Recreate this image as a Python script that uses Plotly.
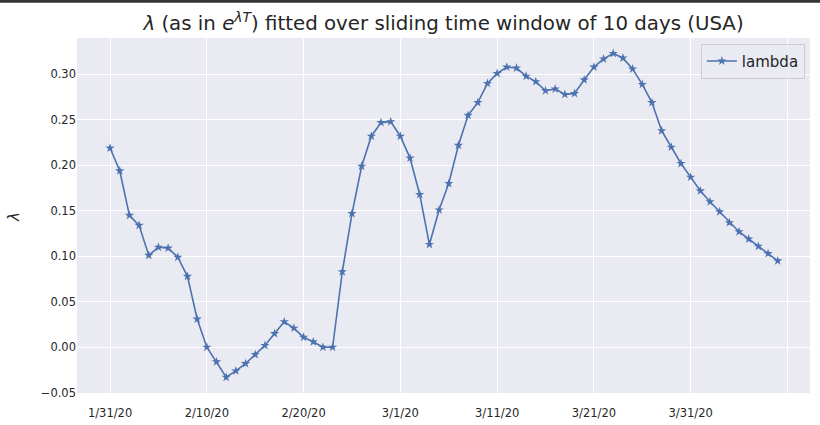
import pandas as pd
import plotly.graph_objects as go

start_date = "2020-01-31"
lam = [0.219, 0.194, 0.145, 0.134, 0.101, 0.110, 0.109, 0.099, 0.078, 0.031,
       0.000, -0.016, -0.033, -0.026, -0.018, -0.008, 0.002, 0.015, 0.028, 0.021,
       0.011, 0.006, 0.000, 0.000, 0.083, 0.147, 0.199, 0.232, 0.247, 0.248,
       0.232, 0.208, 0.168, 0.113, 0.151, 0.180, 0.222, 0.255, 0.269, 0.290,
       0.301, 0.308, 0.307, 0.298, 0.292, 0.282, 0.284, 0.278, 0.279, 0.294,
       0.308, 0.317, 0.323, 0.318, 0.306, 0.289, 0.269, 0.238, 0.220, 0.202,
       0.187, 0.172, 0.160, 0.149, 0.137, 0.127, 0.119, 0.111, 0.103, 0.095]
dates = pd.date_range(start_date, periods=len(lam))

x_tick_vals = ["2020-01-31", "2020-02-10", "2020-02-20", "2020-03-01",
               "2020-03-11", "2020-03-21", "2020-03-31"]
x_tick_text = ["1/31/20", "2/10/20", "2/20/20", "3/1/20", "3/11/20",
               "3/21/20", "3/31/20"]
x_extra_grid = ["2020-04-10"]
y_tick_vals = [-0.05, 0.0, 0.05, 0.10, 0.15, 0.20, 0.25, 0.30]
y_tick_text = ["\u22120.05", "0.00", "0.05", "0.10", "0.15", "0.20", "0.25", "0.30"]

fig = go.Figure()
fig.add_trace(go.Scatter(
    x=dates, y=lam, mode="lines+markers", name="lambda",
    line=dict(color="#4C72B0", width=1.6),
    marker=dict(symbol="star", size=7, color="#4C72B0"),
))

fig.update_layout(
    width=820, height=425,
    margin=dict(l=77, r=10, t=38, b=32, autoexpand=False),
    paper_bgcolor="white", plot_bgcolor="#EAEAF2",
    font=dict(family="DejaVu Sans", color="#262626", size=11.5),
    title=dict(text="<i>λ</i> (as in <i>e</i><sup><i>λT</i></sup>) fitted over sliding time window of 10 days (USA)",
               x=443.5 / 820, xanchor="center", xref="container",
               y=1 - 23 / 425, yanchor="middle", yref="container",
               font=dict(size=19.8, color="#262626")),
    showlegend=True,
    legend=dict(x=0.993, y=0.984, xanchor="right", yanchor="top",
                bgcolor="rgba(234,234,242,0.8)", bordercolor="#CCCCCC", borderwidth=1,
                font=dict(size=15)),
    xaxis=dict(range=["2020-01-27 14:00", "2020-04-12 08:00"],
               tickvals=x_tick_vals, ticktext=x_tick_text,
               minor=dict(tickvals=x_extra_grid, showgrid=True, gridcolor="white",
                          gridwidth=1, ticks=""),
               showgrid=True, gridcolor="white", gridwidth=1, automargin=False,
               zeroline=False, showline=False,
               ticks="outside", ticklen=9, tickcolor="rgba(0,0,0,0)",
               tickfont=dict(size=11.5)),
    yaxis=dict(range=[-0.0503, 0.340], tickvals=y_tick_vals, ticktext=y_tick_text,
               showgrid=True, gridcolor="white", gridwidth=1, automargin=False,
               zeroline=False, showline=False, ticks="", tickfont=dict(size=11.5)),
    annotations=[dict(text="<i>λ</i>", xref="paper", yref="paper",
                      x=(14 - 77) / 733, y=(393 - 217) / 355,
                      xanchor="center", yanchor="middle", textangle=-90,
                      showarrow=False, font=dict(size=15, color="#262626"))],
    shapes=[dict(type="rect", xref="paper", yref="paper",
                 x0=-77 / 733, x1=1 + 10 / 733, y0=1 + 35.3 / 355, y1=1 + 38 / 355,
                 fillcolor="#333333", line=dict(width=0), layer="above")],
)

fig.write_html("out.html", config={"displayModeBar": False},
               post_script="document.body.style.margin='0';")
